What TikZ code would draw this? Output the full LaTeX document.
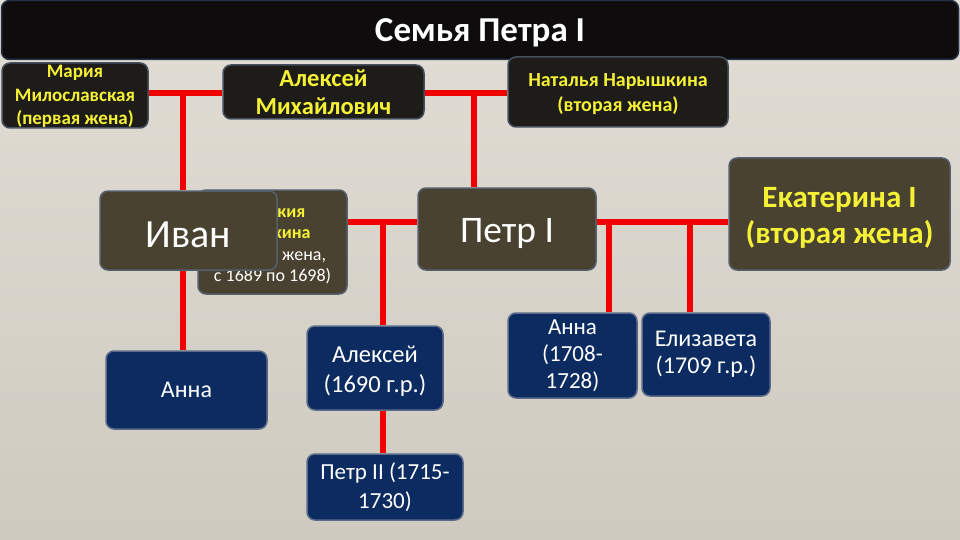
\documentclass[tikz,border=0pt]{standalone}
\usepackage{fontspec}
\setmainfont{Carlito}
\pgfdeclarelayer{back}
\pgfdeclarelayer{lines}
\pgfsetlayers{back,lines,main}
\definecolor{bgtop}{HTML}{E2DED5}
\definecolor{bgbot}{HTML}{CFCAC0}
\definecolor{titlefill}{HTML}{0E0C0C}
\definecolor{titleborder}{HTML}{26324A}
\definecolor{darkfill}{HTML}{1E1C18}
\definecolor{darkborder}{HTML}{45505F}
\definecolor{olive}{HTML}{4A4231}
\definecolor{oliveborder}{HTML}{55606E}
\definecolor{navy}{HTML}{0C2B60}
\definecolor{navyborder}{HTML}{5A6A88}
\definecolor{ytext}{HTML}{F5F236}
\definecolor{redline}{HTML}{F00000}
\tikzset{
  box/.style={rounded corners=8pt, line width=1.5pt, inner sep=0pt, align=center},
  darkbox/.style={box, fill=darkfill, draw=darkborder, text=ytext},
  olivebox/.style={box, fill=olive, draw=oliveborder, text=white},
  navybox/.style={box, fill=navy, draw=navyborder, text=white},
  link/.style={draw=redline, line width=6.5pt},
}
\newcommand{\fsz}[2]{\fontsize{#1}{#2}\selectfont}
\newcommand{\lowr}[2]{\raisebox{-#1}[\height][\depth]{#2}}
\begin{document}
\begin{tikzpicture}[x=1pt,y=-1pt]
\useasboundingbox (0,0) rectangle (960,540);
\begin{pgfonlayer}{back}
\shade[top color=bgtop,bottom color=bgbot] (0,0) rectangle (960,540);
\end{pgfonlayer}

% title
\node[box, fill=titlefill, draw=titleborder, text=white, minimum width=957pt, minimum height=59pt, font=\fsz{35}{40}\bfseries] (title) at (480,30) {\lowr{3pt}{Семья Петра I}};

% parents
\node[darkbox, minimum width=146pt, minimum height=65pt, font=\fsz{19}{23.5}\bfseries] (maria) at (75,95.5) {\lowr{1pt}{Мария}\\\lowr{1pt}{Милославская}\\\lowr{1pt}{(первая жена)}};
\node[darkbox, minimum width=201pt, minimum height=54pt, font=\fsz{24.5}{28}\bfseries] (alexei) at (323.5,92) {Алексей\\Михайлович};
\node[darkbox, minimum width=220pt, minimum height=70pt, font=\fsz{20}{25}\bfseries] (natalya) at (618,92) {\lowr{2pt}{Наталья Нарышкина}\\\lowr{2pt}{(вторая жена)}};

% second generation
\node[olivebox, minimum width=149pt, minimum height=104pt, font=\fsz{18}{21.5}] (evdokia) at (272.5,242) {\textcolor{ytext}{\bfseries\lowr{3pt}{Евдокия}}\\\textcolor{ytext}{\bfseries\lowr{3pt}{Лопухина}}\\\lowr{3pt}{(первая жена,}\\\lowr{3pt}{с 1689 по 1698)}};
\node[olivebox, minimum width=177pt, minimum height=79pt, font=\fsz{40}{44}] (ivan) at (188.5,230.5) {\lowr{4pt}{Иван}};
\node[olivebox, minimum width=178pt, minimum height=82pt, font=\fsz{37.5}{42}] (petr) at (507,229) {\lowr{4pt}{Петр I}};
\node[olivebox, text=ytext, minimum width=221pt, minimum height=112pt, font=\fsz{31}{36}\bfseries] (ekaterina) at (839.5,214) {\lowr{4pt}{Екатерина I}\\\lowr{4pt}{(вторая жена)}};

% third generation
\node[navybox, minimum width=161pt, minimum height=78pt, font=\fsz{24}{29}] (anna1) at (186.5,390) {Анна};
\node[navybox, minimum width=136pt, minimum height=84pt, font=\fsz{24.5}{30}] (alexei2) at (375,368) {\lowr{3pt}{Алексей}\\\lowr{3pt}{(1690 г.р.)}};
\node[navybox, minimum width=156pt, minimum height=66pt, font=\fsz{23}{29}] (petr2) at (385,487) {Петр II (1715-\\1730)};
\node[navybox, minimum width=129pt, minimum height=85pt, font=\fsz{23}{27}] (anna2) at (572.5,355.5) {Анна\\(1708-\\1728)};
\node[navybox, minimum width=128pt, minimum height=83pt, font=\fsz{24}{27}] (eliz) at (706,354.5) {Елизавета\\(1709 г.р.)};

% connectors
\coordinate (j1) at (183,93);
\coordinate (j2) at (474,93);
\coordinate (j3) at (383,222);
\coordinate (j4) at (609,222);
\coordinate (j5) at (690,222);
\begin{pgfonlayer}{lines}
\draw[link] (maria.east |- j1) -- (alexei.west |- j1);
\draw[link] (j1) -- (j1 |- ivan.north);
\draw[link] (j1 |- ivan.south) -- (j1 |- anna1.north);
\draw[link] (alexei.east |- j2) -- (natalya.west |- j2);
\draw[link] (j2) -- (j2 |- petr.north);
\draw[link] (evdokia.east |- j3) -- (petr.west |- j3);
\draw[link] (j3) -- (j3 |- alexei2.north);
\draw[link] (j3 |- alexei2.south) -- (j3 |- petr2.north);
\draw[link] (petr.east |- j4) -- (ekaterina.west |- j4);
\draw[link] (j4) -- (j4 |- anna2.north);
\draw[link] (j5) -- (j5 |- eliz.north);
\end{pgfonlayer}
\end{tikzpicture}
\end{document}
